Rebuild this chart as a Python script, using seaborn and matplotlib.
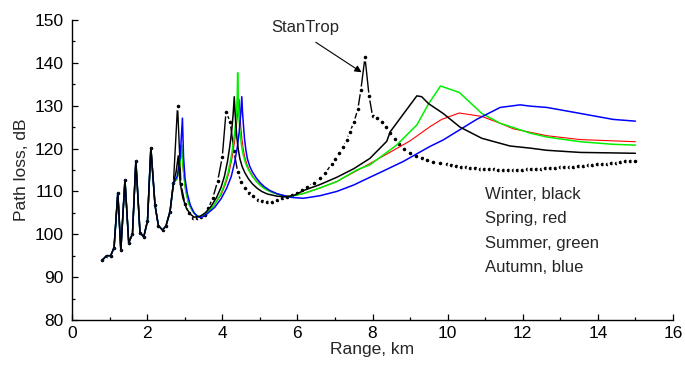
import matplotlib
matplotlib.use("Agg")
import matplotlib.pyplot as plt
import seaborn as sns
from matplotlib.ticker import MultipleLocator

# range (km) and path loss (dB)
# low-range part shared by every curve
low_km = [0.81, 0.92, 1.03, 1.12, 1.22, 1.30, 1.41, 1.51, 1.61, 1.70,
          1.81, 1.91, 2.01, 2.10, 2.21, 2.30, 2.41, 2.50, 2.61, 2.70]
low_db = [94.0, 95.0, 95.0, 96.9, 109.7, 96.3, 112.7, 98.0, 100.1, 117.1,
          100.4, 99.4, 103.1, 120.2, 106.8, 102.0, 101.0, 101.9, 105.3, 111.9]

stantrop_km = [2.81, 2.90, 3.01, 3.11, 3.21, 3.32, 3.43, 3.53, 3.63, 3.75,
               3.88, 4.00, 4.10, 4.21, 4.31, 4.41, 4.50, 4.61, 4.72, 4.83,
               4.94, 5.05, 5.18, 5.32, 5.45, 5.58, 5.72, 5.85, 5.98, 6.12,
               6.25, 6.43, 6.59, 6.74, 6.91, 7.01, 7.11, 7.21, 7.31, 7.40,
               7.51, 7.61, 7.69, 7.80, 7.91, 8.00, 8.11, 8.24, 8.36, 8.47,
               8.60, 8.71, 8.84, 9.00, 9.16, 9.31, 9.44, 9.62, 9.80, 9.98,
               10.10, 10.23, 10.35, 10.48, 10.60, 10.73, 10.85, 10.98, 11.10, 11.23,
               11.35, 11.48, 11.60, 11.73, 11.85, 11.98, 12.10, 12.23, 12.35, 12.48,
               12.60, 12.73, 12.85, 12.98, 13.10, 13.23, 13.35, 13.48, 13.60, 13.73,
               13.85, 13.98, 14.10, 14.23, 14.35, 14.48, 14.60, 14.73, 14.85, 14.98]
stantrop_db = [130.0, 111.7, 107.0, 104.9, 103.9, 103.7, 104.1, 104.6, 106.1, 108.5,
               112.5, 118.0, 128.5, 126.3, 119.5, 114.6, 112.3, 110.9, 109.7, 108.9,
               108.1, 107.8, 107.6, 107.6, 108.0, 108.4, 108.8, 109.2, 109.7, 110.4,
               111.1, 112.0, 113.1, 114.2, 116.4, 117.6, 118.9, 120.3, 122.0, 123.9,
               126.3, 129.2, 133.7, 141.3, 132.2, 127.7, 127.2, 126.3, 125.1, 123.7,
               122.2, 121.1, 120.0, 119.0, 118.3, 117.7, 117.3, 116.9, 116.6, 116.3,
               116.1, 115.9, 115.8, 115.6, 115.5, 115.4, 115.3, 115.3, 115.2, 115.2,
               115.1, 115.1, 115.1, 115.1, 115.1, 115.1, 115.2, 115.2, 115.3, 115.3,
               115.4, 115.4, 115.5, 115.6, 115.6, 115.7, 115.8, 115.9, 116.0, 116.1,
               116.2, 116.3, 116.4, 116.5, 116.6, 116.7, 116.8, 117.0, 117.1, 117.2]

winter_km = [2.77, 2.83, 2.88, 2.95, 3.05, 3.15, 3.25, 3.41, 3.55, 3.70,
             3.85, 3.97, 4.06, 4.14, 4.20, 4.25, 4.29, 4.32, 4.34, 4.36,
             4.39, 4.43, 4.47, 4.53, 4.60, 4.70, 4.80, 4.92, 5.05, 5.20,
             5.45, 5.70, 5.95, 6.16, 6.60, 7.05, 7.50, 7.93, 8.38, 8.47,
             9.18, 9.31, 9.49, 9.88, 10.33, 10.91, 11.66, 12.20, 12.64, 13.53,
             14.30, 15.00]
winter_db = [114.5, 118.3, 112.0, 108.5, 106.0, 104.7, 104.0, 104.2, 105.0, 106.5,
             108.6, 111.0, 113.6, 117.0, 120.5, 124.0, 128.0, 132.1, 128.5, 126.0,
             122.5, 119.6, 117.6, 115.8, 114.4, 112.9, 111.8, 110.8, 110.0, 109.4,
             108.9, 108.7, 109.2, 110.2, 111.6, 113.3, 115.3, 117.7, 121.7, 123.9,
             132.3, 132.1, 130.5, 128.2, 125.0, 122.4, 120.6, 120.1, 119.6, 119.1,
             119.0, 118.9]

spring_km = [2.80, 2.87, 2.92, 2.96, 3.02, 3.10, 3.20, 3.30, 3.41, 3.60,
             3.80, 3.97, 4.09, 4.18, 4.26, 4.32, 4.37, 4.41, 4.45, 4.47,
             4.49, 4.52, 4.56, 4.60, 4.66, 4.73, 4.83, 4.93, 5.05, 5.20,
             5.35, 5.55, 5.80, 6.16, 6.60, 7.05, 7.93, 8.64, 9.00, 9.53,
             9.84, 10.31, 10.91, 11.40, 11.75, 12.20, 12.64, 13.53, 14.40, 15.00]
spring_db = [113.0, 116.0, 120.0, 115.0, 110.5, 107.3, 105.5, 104.5, 104.0, 105.1,
             107.0, 109.2, 111.8, 114.4, 117.8, 121.2, 124.6, 128.3, 131.5, 128.0,
             125.5, 122.5, 119.8, 118.0, 116.2, 114.8, 113.3, 112.2, 111.2, 110.3,
             109.7, 109.2, 108.9, 109.5, 110.8, 112.3, 116.5, 120.0, 121.8, 125.1,
             126.8, 128.3, 127.5, 125.9, 124.6, 123.8, 123.0, 122.1, 121.8, 121.6]

summer_km = [2.80, 2.87, 2.92, 2.96, 3.02, 3.10, 3.20, 3.30, 3.41, 3.60,
             3.78, 3.94, 4.06, 4.15, 4.23, 4.29, 4.34, 4.38, 4.40, 4.41,
             4.43, 4.45, 4.48, 4.52, 4.56, 4.62, 4.70, 4.80, 4.90, 5.02,
             5.17, 5.32, 5.55, 5.80, 6.16, 6.60, 7.05, 7.58, 7.93, 8.64,
             9.18, 9.49, 9.81, 10.31, 10.91, 11.40, 11.75, 12.20, 12.64, 13.53,
             14.40, 15.00]
summer_db = [113.0, 116.0, 120.8, 115.5, 110.5, 107.3, 105.5, 104.5, 104.0, 105.1,
             106.8, 109.0, 111.6, 114.2, 117.6, 121.0, 124.5, 128.5, 132.5, 137.7,
             130.0, 126.5, 123.0, 120.3, 118.5, 116.6, 115.0, 113.5, 112.4, 111.3,
             110.4, 109.8, 109.1, 108.8, 109.5, 110.8, 112.3, 115.0, 116.2, 120.8,
             125.5, 130.4, 134.6, 133.1, 128.2, 125.9, 124.9, 123.6, 122.7, 121.6,
             121.0, 120.8]

autumn_km = [2.80, 2.88, 2.94, 2.97, 3.01, 3.07, 3.15, 3.25, 3.35, 3.45,
             3.60, 3.80, 3.97, 4.12, 4.24, 4.33, 4.40, 4.45, 4.49, 4.52,
             4.54, 4.56, 4.59, 4.63, 4.67, 4.73, 4.80, 4.90, 5.00, 5.12,
             5.27, 5.45, 5.65, 5.85, 6.16, 6.60, 7.05, 7.50, 7.93, 8.20,
             8.82, 9.53, 9.88, 10.77, 11.40, 11.93, 12.20, 12.64, 13.53, 14.41,
             15.00]
autumn_db = [113.5, 118.0, 127.1, 118.0, 113.0, 109.5, 106.8, 105.0, 104.1, 103.9,
             104.8, 106.3, 108.3, 110.8, 113.5, 116.8, 120.3, 123.8, 127.8, 132.1,
             128.5, 126.0, 122.5, 119.6, 117.6, 115.9, 114.6, 113.2, 112.1, 111.1,
             110.2, 109.5, 109.0, 108.6, 108.4, 109.0, 110.0, 111.5, 113.3, 114.4,
             117.0, 120.5, 122.0, 126.8, 129.6, 130.2, 129.9, 129.6, 128.2, 126.8,
             126.4]

legend_lines = ["Winter, black", "Spring, red", "Summer, green", "Autumn, blue"]

sns.set_style("ticks")
plt.rcParams['font.family'] = ['Liberation Sans', 'DejaVu Sans']
plt.rcParams['font.size'] = 12

fig = plt.figure(figsize=(6.85, 3.65), dpi=100)
ax = fig.add_axes([0.1051, 0.1233, 0.8774, 0.8219])

# StanTrop: line with dots, white ring leaves a gap round each symbol
sns.lineplot(x=low_km + stantrop_km, y=low_db + stantrop_db, sort=False, estimator=None,
             color='black', linewidth=1.0, marker='o', markersize=4.2,
             markerfacecolor='black', markeredgecolor='white', markeredgewidth=1.6, ax=ax)

# seasons (low part is common to all)
sns.lineplot(x=low_km + spring_km, y=low_db + spring_db, sort=False, estimator=None,
             color='#ff0000', linewidth=0.8, ax=ax)
sns.lineplot(x=low_km + summer_km, y=low_db + summer_db, sort=False, estimator=None,
             color='#00f000', linewidth=1.1, ax=ax)
sns.lineplot(x=low_km + autumn_km, y=low_db + autumn_db, sort=False, estimator=None,
             color='#0000ff', linewidth=1.1, ax=ax)
sns.lineplot(x=low_km + winter_km, y=low_db + winter_db, sort=False, estimator=None,
             color='black', linewidth=1.1, ax=ax)

# redraw the StanTrop dots above the season lines
sns.scatterplot(x=low_km + stantrop_km, y=low_db + stantrop_db, color='black',
                s=7, linewidth=0, ax=ax)

ax.text(6.2, 148.2, "StanTrop", ha='center', va='center', fontsize=12)
ax.annotate("", xy=(7.71, 137.8), xytext=(6.49, 144.8),
            arrowprops=dict(arrowstyle='-|>', color='black', lw=0.8,
                            shrinkA=0, shrinkB=0, mutation_scale=10))

for i, txt in enumerate(legend_lines):
    ax.text(11.0, 109.3 - 5.7 * i, txt, ha='left', va='center', fontsize=12)

ax.set_xlim(0, 16)
ax.set_ylim(80, 150)
ax.xaxis.set_major_locator(MultipleLocator(2))
ax.xaxis.set_minor_locator(MultipleLocator(1))
ax.yaxis.set_major_locator(MultipleLocator(10))
ax.yaxis.set_minor_locator(MultipleLocator(5))
ax.tick_params(which='both', direction='in', width=0.9, colors='black', labelsize=12.5)
ax.tick_params(which='major', length=4.5)
ax.tick_params(which='minor', length=2.5)
ax.tick_params(axis='x', pad=4)
ax.tick_params(axis='y', pad=6)
sns.despine(ax=ax)
for s in ['left', 'bottom']:
    ax.spines[s].set_linewidth(1.0)
    ax.spines[s].set_color('black')

ax.set_xlabel("Range, km", fontsize=12.5, labelpad=1)
ax.set_ylabel("Path loss, dB", fontsize=12.5, labelpad=4)

fig.savefig("out.png", dpi=100)
